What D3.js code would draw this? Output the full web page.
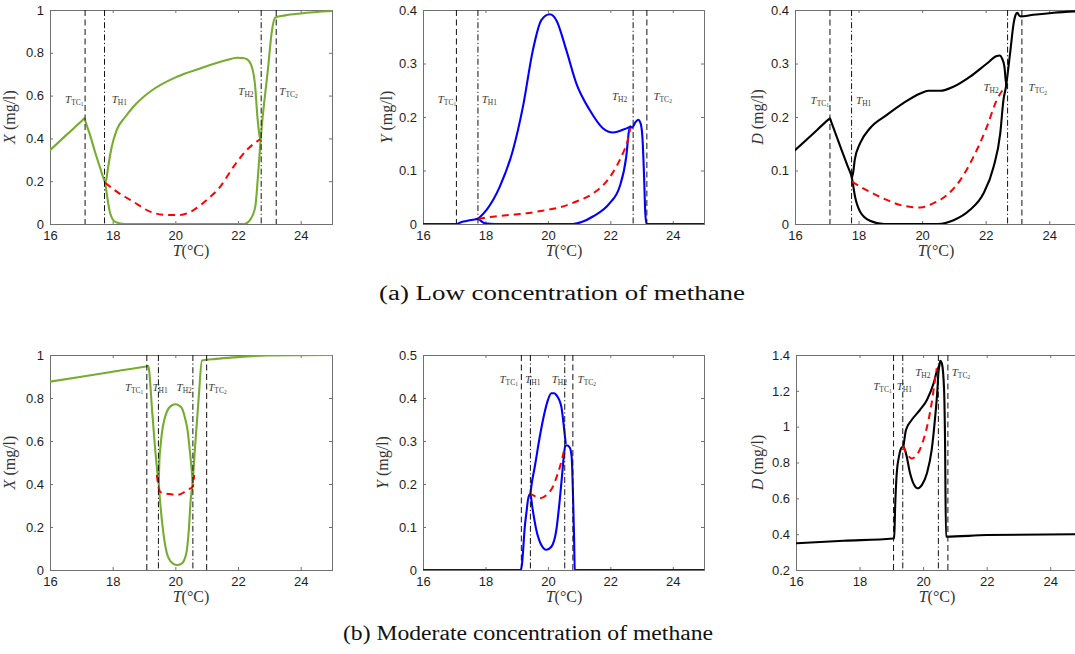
<!DOCTYPE html>
<html>
<head>
<meta charset="utf-8">
<script src="https://cdn.jsdelivr.net/npm/d3@7"></script>
<style>
  body { margin: 0; background: #fff; }
  svg { display: block; }
</style>
</head>
<body>
<svg id="fig" width="1075" height="654"></svg>
<script>
// Shared temperature axis
const tempDomain = [16, 25];
const tempTicks = [16, 18, 20, 22, 24];

// Y tick values per quantity
const ticksUnit = [0, 0.2, 0.4, 0.6, 0.8, 1];
const ticksLowY = [0, 0.1, 0.2, 0.3, 0.4];
const ticksLowD = [0, 0.1, 0.2, 0.3, 0.4];
const ticksModY = [0, 0.1, 0.2, 0.3, 0.4, 0.5];
const ticksModD = [0.2, 0.4, 0.6, 0.8, 1, 1.2, 1.4];

// Threshold temperatures: T_TC1, T_H1, T_H2, T_TC2
const thresholdNames = [["TC", "1"], ["H1", null], ["H2", null], ["TC", "2"]];
const thresholdDash = ["dash", "dashdot", "dashdot", "dash"];

// ---------- (a) low methane concentration ----------
const lowXMarks = [17.12, 17.74, 22.74, 23.22];
const lowXStable = [[16,0.345],[16.5,0.413],[17.05,0.487],[17.1,0.494],[17.13,0.48],[17.28,0.415],[17.44,0.335],[17.6,0.262],[17.72,0.208],[17.76,0.193],[17.81,0.143],[17.92,0.05],[18.08,0.01],[18.4,0],[22.2,0],[22.39,0.02],[22.55,0.08],[22.66,0.27],[22.72,0.39],[22.96,0.73],[23.08,0.9],[23.19,0.965],[23.5,0.975],[24,0.984],[25,0.995]];
const lowXUpper = [[17.76,0.193],[17.8,0.21],[17.85,0.26],[17.97,0.361],[18.13,0.44],[18.4,0.5],[18.66,0.548],[19.19,0.618],[20.05,0.688],[20.79,0.727],[21.64,0.766],[21.96,0.777],[22.15,0.776],[22.28,0.77],[22.44,0.735],[22.55,0.64],[22.62,0.5],[22.69,0.41],[22.72,0.39]];
const lowXUnstable = [[17.76,0.193],[18.13,0.151],[18.66,0.104],[19.19,0.058],[19.73,0.042],[20.15,0.042],[20.58,0.065],[21.0,0.112],[21.43,0.174],[21.86,0.268],[22.28,0.346],[22.6,0.385],[22.71,0.396]];

const lowYMarks = [17.07, 17.76, 22.73, 23.17];
const lowYStable = [[16,0],[17.07,0],[17.2,0.003],[17.39,0.0056],[17.6,0.008],[17.76,0.0095],[17.85,0.006],[17.92,0.003],[18.05,0.0008],[18.3,0],[20.8,0],[21.1,0.004],[21.44,0.014],[21.98,0.039],[22.3,0.07],[22.51,0.126],[22.6,0.175],[22.64,0.182],[22.7,0.18],[22.8,0.19],[22.89,0.195],[22.97,0.188],[23.03,0.16],[23.08,0.09],[23.12,0.02],[23.16,0],[25,0]];
const lowYUpper = [[17.76,0.0095],[18.03,0.026],[18.46,0.07],[18.88,0.138],[19.2,0.219],[19.52,0.325],[19.79,0.381],[20.06,0.392],[20.27,0.381],[20.59,0.325],[20.91,0.263],[21.34,0.213],[21.76,0.179],[22.09,0.171],[22.4,0.176],[22.64,0.182]];
const lowYUnstable = [[17.76,0.0095],[18.24,0.0137],[18.78,0.0168],[19.31,0.02],[19.84,0.025],[20.38,0.031],[20.91,0.042],[21.44,0.057],[21.87,0.079],[22.19,0.107],[22.4,0.132],[22.56,0.157],[22.64,0.179]];

const lowDMarks = [17.1, 17.78, 22.69, 23.14];
const lowDStable = [[16,0.138],[16.5,0.165],[17.05,0.195],[17.1,0.1975],[17.14,0.191],[17.3,0.165],[17.5,0.133],[17.65,0.109],[17.79,0.086],[17.89,0.051],[18.05,0.023],[18.36,0.006],[18.8,0],[20.5,0],[20.99,0.007],[21.5,0.026],[21.93,0.057],[22.25,0.107],[22.46,0.17],[22.56,0.232],[22.64,0.257],[22.71,0.29],[22.78,0.325],[22.88,0.375],[22.95,0.392],[23.0,0.395],[23.05,0.39],[23.1,0.388],[23.5,0.391],[24.14,0.395],[25,0.398]];
const lowDUpper = [[17.79,0.086],[17.84,0.1],[17.88,0.12],[18.05,0.151],[18.36,0.179],[18.89,0.204],[19.41,0.226],[19.94,0.244],[20.2,0.249],[20.57,0.249],[21.0,0.257],[21.5,0.275],[22.04,0.3],[22.35,0.314],[22.45,0.315],[22.51,0.31],[22.59,0.294],[22.63,0.269],[22.66,0.257]];
const lowDUnstable = [[17.79,0.079],[18.36,0.06],[18.89,0.045],[19.41,0.034],[19.94,0.031],[20.36,0.039],[20.78,0.054],[21.2,0.082],[21.62,0.126],[22.04,0.182],[22.35,0.232],[22.62,0.257]];

// ---------- (b) moderate methane concentration ----------
const modXMarks = [19.09, 19.46, 20.56, 21.0];
const modXStable = [[16,0.876],[17,0.899],[18,0.9225],[19.1,0.948],[19.14,0.949],[19.17,0.92],[19.25,0.76],[19.35,0.574],[19.43,0.45],[19.47,0.403],[19.51,0.326],[19.62,0.17],[19.73,0.078],[19.89,0.034],[20.05,0.023],[20.21,0.031],[20.35,0.078],[20.43,0.186],[20.49,0.326],[20.55,0.403],[20.63,0.574],[20.74,0.79],[20.85,0.974],[21.3,0.982],[21.86,0.989],[22.92,0.998],[25,1.0]];
const modXUpper = [[19.47,0.403],[19.49,0.508],[19.53,0.58],[19.57,0.636],[19.65,0.7],[19.73,0.736],[19.85,0.762],[20.0,0.771],[20.12,0.765],[20.21,0.752],[20.32,0.7],[20.39,0.651],[20.47,0.543],[20.53,0.45],[20.55,0.403]];
const modXUnstable = [[19.41,0.442],[19.47,0.38],[19.51,0.364],[19.7,0.355],[19.83,0.353],[20.05,0.349],[20.2,0.355],[20.37,0.372],[20.56,0.388],[20.6,0.442]];

const modYMarks = [19.15, 19.44, 20.54, 20.8];
const modYStable = [[16,0],[19.13,0],[19.18,0.02],[19.2,0.039],[19.26,0.1],[19.31,0.132],[19.36,0.162],[19.4,0.174],[19.44,0.177],[19.5,0.147],[19.63,0.093],[19.79,0.058],[19.95,0.047],[20.11,0.054],[20.27,0.093],[20.38,0.163],[20.46,0.225],[20.51,0.264],[20.55,0.287],[20.61,0.29],[20.7,0.285],[20.76,0.264],[20.8,0.186],[20.84,0.07],[20.86,0],[25,0]];
const modYUpper = [[19.44,0.177],[19.48,0.2],[19.58,0.24],[19.74,0.31],[19.9,0.368],[20.0,0.395],[20.11,0.411],[20.2,0.411],[20.27,0.407],[20.43,0.38],[20.5,0.341],[20.57,0.295]];
const modYUnstable = [[19.4,0.178],[19.52,0.174],[19.74,0.167],[19.95,0.174],[20.16,0.194],[20.32,0.225],[20.46,0.26],[20.54,0.287]];

const modDMarks = [19.07, 19.36, 20.48, 20.78];
const modDStable = [[16,0.349],[17.5,0.363],[19.05,0.376],[19.09,0.377],[19.12,0.553],[19.17,0.74],[19.24,0.833],[19.33,0.885],[19.38,0.888],[19.46,0.851],[19.59,0.74],[19.72,0.674],[19.82,0.656],[19.96,0.674],[20.12,0.74],[20.27,0.87],[20.38,1.056],[20.45,1.205],[20.48,1.298],[20.51,1.34],[20.54,1.368],[20.59,1.353],[20.66,1.205],[20.69,0.926],[20.72,0.386],[22,0.395],[25,0.4]];
const modDUpper = [[19.38,0.888],[19.41,0.926],[19.46,0.981],[19.64,1.037],[19.9,1.093],[20.12,1.149],[20.33,1.242],[20.43,1.307],[20.48,1.331],[20.51,1.34]];
const modDUnstable = [[19.36,0.892],[19.48,0.851],[19.64,0.823],[19.8,0.842],[20.01,0.926],[20.17,1.037],[20.3,1.167],[20.38,1.27],[20.43,1.326]];

// Captions
const captions = ["(a) Low concentration of methane", "(b) Moderate concentration of methane"];

// ---------- layout ----------
const GREEN = "#77AC30", BLUE = "#0000FF", BLACK = "#000000", RED = "#FF0000";
const serif = "'Liberation Serif', 'Times New Roman', serif";
const sans = "'Liberation Sans', Arial, Helvetica, sans-serif";

const panels = [
  { id: "aX", left: 50,  top: 10,  width: 282, height: 214, yDomain: [0, 1],     yTicks: ticksUnit, sym: "X", color: GREEN, solid: [lowXStable, lowXUpper], dashed: lowXUnstable, marks: lowXMarks, yLabelOff: -35,
    markLabelAt: [[16.48, 0.565], [17.97, 0.565], [22.01, 0.605], [23.32, 0.605]] },
  { id: "aY", left: 423, top: 10,  width: 281, height: 214, yDomain: [0, 0.4],   yTicks: ticksLowY, sym: "Y", color: BLUE,  solid: [lowYStable, lowYUpper], dashed: lowYUnstable, marks: lowYMarks, yLabelOff: -31,
    markLabelAt: [[16.47, 0.226], [17.88, 0.226], [22.05, 0.232], [23.38, 0.232]] },
  { id: "aD", left: 795, top: 10,  width: 286, height: 214, yDomain: [0, 0.4],   yTicks: ticksLowD, sym: "D", color: BLACK, solid: [lowDStable, lowDUpper], dashed: lowDUnstable, marks: lowDMarks, yLabelOff: -32,
    markLabelAt: [[16.49, 0.224], [17.92, 0.224], [21.93, 0.248], [23.35, 0.248]] },
  { id: "bX", left: 50,  top: 355, width: 282, height: 215, yDomain: [0, 1],     yTicks: ticksUnit, sym: "X", color: GREEN, solid: [modXStable, modXUpper], dashed: modXUnstable, marks: modXMarks, yLabelOff: -35,
    markLabelAt: [[18.39, 0.833], [19.27, 0.833], [20.04, 0.833], [21.05, 0.833]] },
  { id: "bY", left: 423, top: 355, width: 281, height: 215, yDomain: [0, 0.5],   yTicks: ticksModY, sym: "Y", color: BLUE,  solid: [modYStable, modYUpper], dashed: modYUnstable, marks: modYMarks, yLabelOff: -35,
    markLabelAt: [[18.45, 0.435], [19.27, 0.435], [20.12, 0.435], [20.95, 0.435]] },
  { id: "bD", left: 796, top: 355, width: 286, height: 215, yDomain: [0.2, 1.4], yTicks: ticksModD, sym: "D", color: BLACK, solid: [modDStable, modDUpper], dashed: modDUnstable, marks: modDMarks, yLabelOff: -33,
    markLabelAt: [[18.43, 1.204], [19.17, 1.204], [19.75, 1.283], [20.9, 1.283]] }
];

const captionLayout = [
  { x: 379, y: 300, len: 366 },
  { x: 343, y: 640, len: 370 }
];

const svg = d3.select("#fig");
const defs = svg.append("defs");
const AXIS_COLOR = "#707070";
const TEXT_COLOR = "#1e1e1e";
const tickFmt = d3.format("~g");

function styleAxis(sel) {
  sel.select(".domain").attr("stroke", AXIS_COLOR).attr("stroke-width", 1);
  sel.selectAll(".tick line").attr("stroke", AXIS_COLOR).attr("stroke-width", 1);
  sel.selectAll(".tick text").attr("fill", TEXT_COLOR).attr("font-family", sans).attr("font-size", 13);
}

function drawPanel(p) {
  const x = d3.scaleLinear().domain(tempDomain).range([p.left, p.left + p.width]);
  const y = d3.scaleLinear().domain(p.yDomain).range([p.top + p.height, p.top]);
  const g = svg.append("g").attr("class", "panel-" + p.id);

  const clipId = "clip-" + p.id;
  defs.append("clipPath").attr("id", clipId).append("rect")
    .attr("x", p.left).attr("y", p.top).attr("width", p.width).attr("height", p.height);

  // Box with inward ticks on all sides
  g.append("g").attr("transform", `translate(0,${p.top + p.height})`)
    .call(d3.axisBottom(x).tickValues(tempTicks).tickFormat(d3.format("d")).tickSize(-3).tickPadding(7))
    .call(styleAxis);
  g.append("g").attr("transform", `translate(0,${p.top})`)
    .call(d3.axisTop(x).tickValues(tempTicks).tickFormat("").tickSize(-3))
    .call(styleAxis);
  g.append("g").attr("transform", `translate(${p.left},0)`)
    .call(d3.axisLeft(y).tickValues(p.yTicks).tickFormat(tickFmt).tickSize(-3).tickPadding(6))
    .call(styleAxis);
  g.append("g").attr("transform", `translate(${p.left + p.width},0)`)
    .call(d3.axisRight(y).tickValues(p.yTicks).tickFormat("").tickSize(-3))
    .call(styleAxis);

  const line = d3.line().x(d => x(d[0])).y(d => y(d[1])).curve(d3.curveMonotoneX);
  const plot = g.append("g").attr("clip-path", `url(#${clipId})`);

  // Stable branches
  p.solid.forEach(branch => {
    plot.append("path").attr("d", line(branch))
      .attr("fill", "none").attr("stroke", p.color).attr("stroke-width", 2.1)
      .attr("stroke-linejoin", "round").attr("stroke-linecap", "round");
  });
  // Unstable branch
  plot.append("path").attr("d", line(p.dashed))
    .attr("fill", "none").attr("stroke", RED).attr("stroke-width", 2)
    .attr("stroke-dasharray", "7,5");

  // Threshold temperature lines
  p.marks.forEach((t, i) => {
    plot.append("line")
      .attr("x1", x(t)).attr("x2", x(t))
      .attr("y1", p.top).attr("y2", p.top + p.height)
      .attr("stroke", "#111").attr("stroke-width", 1)
      .attr("stroke-dasharray", thresholdDash[i] === "dash" ? "6,3.5" : "6,2.5,1.2,2.5");
  });

  // Threshold labels
  p.markLabelAt.forEach((pos, i) => {
    const [sub, subsub] = thresholdNames[i];
    const t = g.append("text")
      .attr("x", x(pos[0])).attr("y", y(pos[1]))
      .attr("font-family", serif).attr("fill", "#3a3a3a");
    t.append("tspan").attr("font-style", "italic").attr("font-size", 11).text("T");
    t.append("tspan").attr("font-size", 7.5).attr("dy", 2).text(sub);
    if (subsub) t.append("tspan").attr("font-size", 5.5).attr("dy", 1.2).text(subsub);
  });

  // Axis titles
  const yl = g.append("text")
    .attr("transform", `translate(${p.left + p.yLabelOff},${p.top + p.height / 2}) rotate(-90)`)
    .attr("text-anchor", "middle").attr("font-family", serif).attr("font-size", 16).attr("fill", "#333");
  yl.append("tspan").attr("font-style", "italic").text(p.sym);
  yl.append("tspan").text(" (mg/l)");

  const xl = g.append("text")
    .attr("x", p.left + 141).attr("y", p.top + p.height + 32)
    .attr("text-anchor", "middle").attr("font-family", serif).attr("font-size", 16).attr("fill", "#333");
  xl.append("tspan").attr("font-style", "italic").text("T");
  xl.append("tspan").text("(°C)");
}

panels.forEach(drawPanel);

captions.forEach((c, i) => {
  svg.append("text")
    .attr("x", captionLayout[i].x).attr("y", captionLayout[i].y)
    .attr("font-family", serif).attr("font-size", 20).attr("fill", "#111")
    .attr("textLength", captionLayout[i].len).attr("lengthAdjust", "spacingAndGlyphs")
    .text(c);
});
</script>
</body>
</html>
